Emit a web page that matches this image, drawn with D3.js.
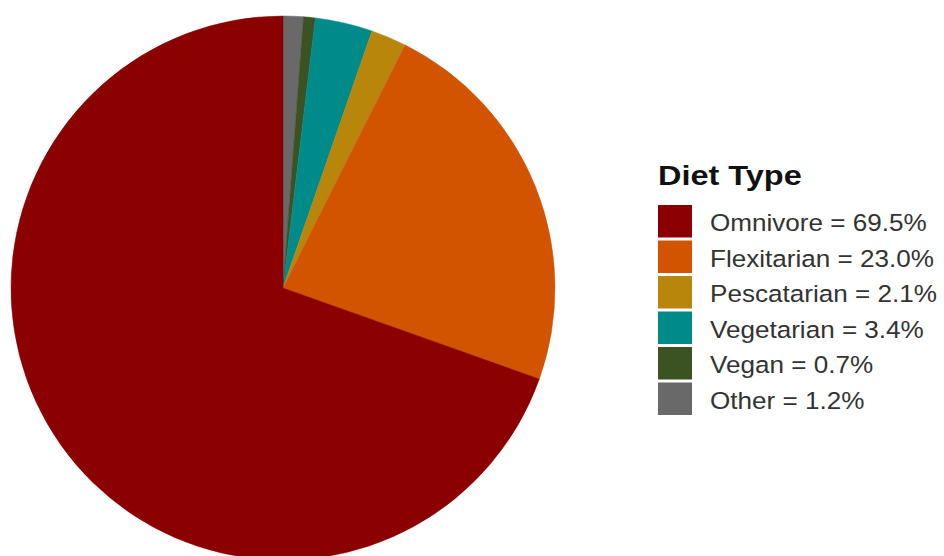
<!DOCTYPE html>
<html>
<head>
<meta charset="utf-8">
<script src="https://cdn.jsdelivr.net/npm/d3@7"></script>
<style>
  body { margin: 0; background: #fff; }
  svg { display: block; font-family: "Liberation Sans", Arial, sans-serif; }
  .legend-title { font-weight: bold; font-size: 28px; fill: #111; }
  .legend-label { font-size: 23.5px; fill: #333; }
</style>
</head>
<body>
<svg width="944" height="556"></svg>
<script>
// **** Data ****
var dietTypes = ["Omnivore", "Flexitarian", "Pescatarian", "Vegetarian", "Vegan", "Other"];
var dietShares = [69.5, 23.0, 2.1, 3.4, 0.7, 1.2];
var dietColors = ["#8b0000", "#d35400", "#b8860b", "#008b8b", "#3b5323", "#696969"];

var data = dietTypes.map(function(d, i) { return { type: d, share: dietShares[i] }; });

var svg = d3.select("svg");

var color = d3.scaleOrdinal().domain(dietTypes).range(dietColors);

// pie goes clockwise from 12 o'clock, smallest categories first (reverse of legend)
var pie = d3.pie()
    .value(function(d) { return d.share; })
    .sort(null);

var arc = d3.arc().innerRadius(0).outerRadius(272);

var pieData = pie(data.slice().reverse());

svg.append("g")
    .attr("transform", "translate(283,288)")
    .selectAll("path")
    .data(pieData)
    .enter()
    .append("path")
    .attr("d", arc)
    .attr("fill", function(d) { return color(d.data.type); })
    .attr("stroke", function(d) { return color(d.data.type); })
    .attr("stroke-width", 0.5);

// **** Legend ****
// the reference text looks a bit stretched sideways, so scale x slightly
var legend = svg.append("g").attr("transform", "translate(657,0)");

legend.append("text")
    .attr("class", "legend-title")
    .attr("transform", "translate(1,185) scale(1.16,1)")
    .text("Diet Type");

var rowY = d3.scaleBand().domain(dietTypes).range([204, 417]);

var rows = legend.selectAll("g.row")
    .data(data)
    .enter()
    .append("g")
    .attr("class", "row")
    .attr("transform", function(d) { return "translate(0," + rowY(d.type) + ")"; });

rows.append("rect")
    .attr("x", 1)
    .attr("y", 1)
    .attr("width", 34)
    .attr("height", rowY.bandwidth() - 3)
    .attr("fill", function(d) { return color(d.type); });

rows.append("text")
    .attr("class", "legend-label")
    .attr("transform", "translate(53," + (rowY.bandwidth() / 2) + ") scale(1.11,1)")
    .attr("dy", "0.4em")
    .text(function(d) { return d.type + " = " + d.share.toFixed(1) + "%"; });
</script>
</body>
</html>
